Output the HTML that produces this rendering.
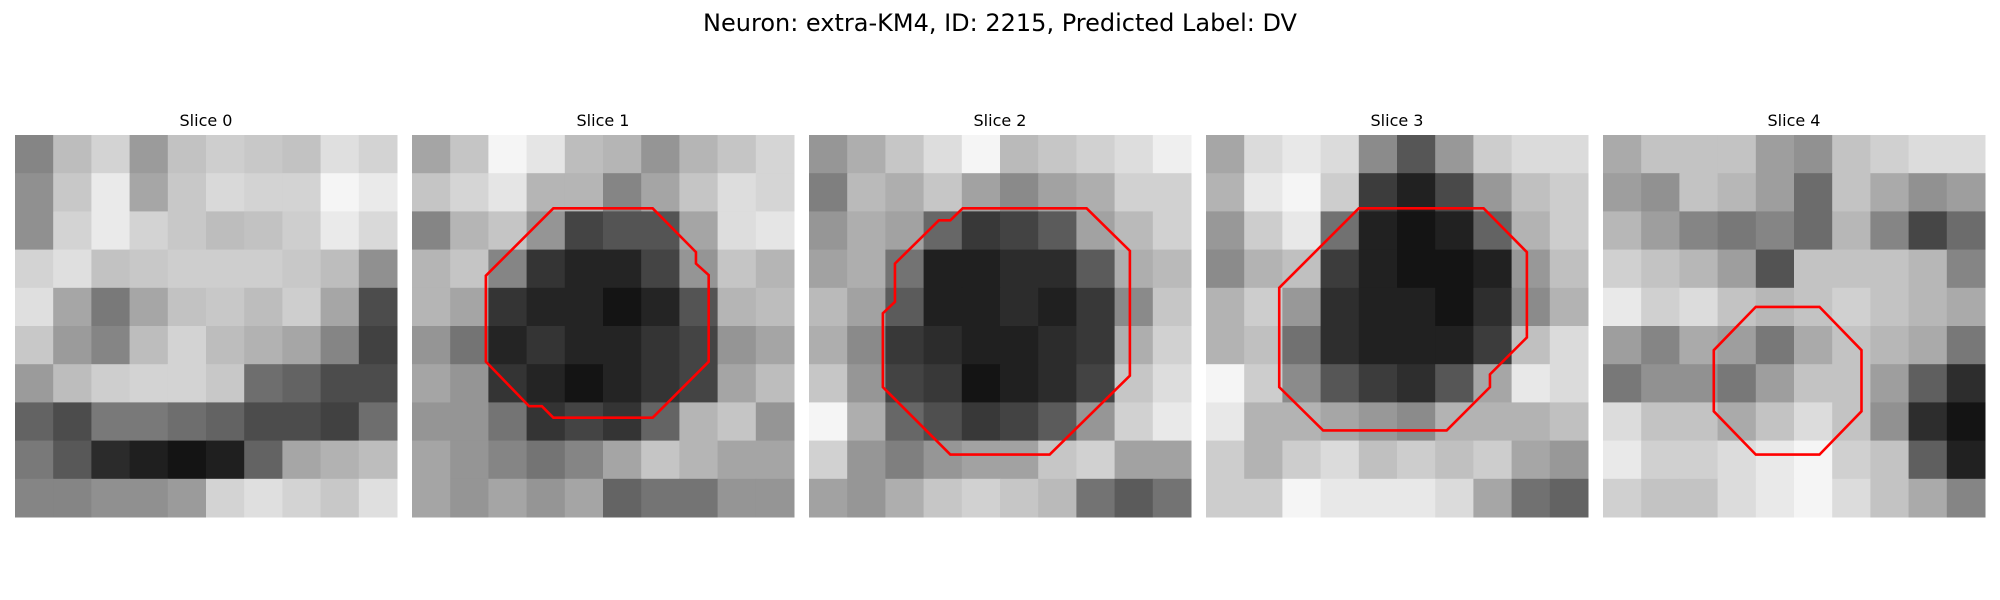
<!DOCTYPE html>
<html><head><meta charset="utf-8"><style>
html,body{margin:0;padding:0;background:#fff;}
svg{display:block;}
</style></head><body>
<svg id="fig" width="2000" height="600" xmlns="http://www.w3.org/2000/svg">
<text x="1000" y="31" text-anchor="middle" font-family="DejaVu Sans, Liberation Sans, sans-serif" font-size="24" fill="#000">Neuron: extra-KM4, ID: 2215, Predicted Label: DV</text>
<g id="panels"></g>
</svg>
<script>
const sliceTitles = ["Slice 0","Slice 1","Slice 2","Slice 3","Slice 4"];
// coarse 10x10 block intensities (0-255) per slice
const slice0 = [
[120,170,190,140,175,185,180,175,200,190],
[130,180,210,150,180,195,190,190,220,210],
[130,190,210,190,180,170,175,185,210,195],
[190,200,175,180,185,185,185,180,170,130],
[200,150,110,150,175,180,170,185,150,70],
[180,140,120,170,190,170,160,150,120,60],
[140,170,185,190,190,180,100,90,70,70],
[90,70,110,110,100,90,70,70,60,100],
[110,80,40,30,20,30,90,150,160,170],
[120,120,130,130,140,190,200,190,180,200]];
const slice1 = [
[150,170,200,190,165,160,140,160,170,180],
[170,180,190,160,160,130,150,170,185,180],
[130,160,170,140,90,100,100,150,185,190],
[160,170,130,80,70,70,90,140,170,160],
[160,150,80,70,70,60,70,100,160,165],
[140,120,70,80,70,70,80,90,140,150],
[150,140,80,70,60,70,80,90,150,165],
[140,140,120,80,90,80,110,160,170,140],
[150,140,130,120,130,150,170,160,150,150],
[150,140,150,140,150,110,120,120,140,140]];
const slice2 = [
[150,170,190,210,230,180,190,200,210,225],
[130,180,170,190,160,140,160,170,200,200],
[150,170,160,110,70,80,100,160,180,200],
[160,170,120,50,50,60,60,100,170,180],
[180,160,100,50,50,60,50,70,140,190],
[170,140,70,60,50,50,60,70,170,200],
[190,150,80,70,40,50,60,80,190,210],
[230,170,110,90,70,80,100,150,200,220],
[200,150,130,150,160,160,190,200,160,160],
[160,150,170,190,200,190,180,120,100,120]];
const slice3 = [
[140,180,190,180,120,80,130,170,180,180],
[150,190,200,170,60,40,70,130,160,170],
[130,170,190,100,40,30,40,90,150,170],
[120,150,160,60,40,30,30,40,130,160],
[150,170,130,50,40,40,30,50,120,150],
[150,160,100,50,40,40,40,60,160,180],
[200,170,120,80,60,50,80,140,190,180],
[190,150,150,140,130,120,150,150,150,160],
[170,150,170,180,160,170,160,170,140,130],
[170,170,200,190,190,190,180,140,100,90]];
const slice4 = [
[150,170,170,170,140,130,170,180,190,190],
[140,130,170,160,140,100,170,150,130,140],
[160,140,120,110,120,100,160,120,70,100],
[180,170,160,140,80,170,170,170,160,120],
[200,180,190,170,160,170,180,170,160,150],
[140,120,150,140,110,150,170,160,150,110],
[110,130,130,110,140,170,170,140,90,50],
[190,170,170,150,170,190,170,130,50,30],
[200,180,180,190,200,210,180,170,90,40],
[180,170,170,190,200,210,190,170,150,120]];
// ROI contours in image cell units (0..30)
const contour0 = [];
const contour1 = [[11.1,5.76],[18.9,5.76],[22.3,9.2],[22.3,10.1],[23.3,11.0],[23.3,17.8],[18.9,22.2],[11.1,22.2],[10.2,21.3],[9.2,21.3],[5.8,17.8],[5.8,11.05]];
const contour2 = [[12.07,5.76],[21.8,5.76],[25.2,9.1],[25.2,18.9],[18.9,25.1],[11.1,25.1],[5.8,19.8],[5.8,14.0],[6.75,13.1],[6.75,10.1],[10.2,6.7],[11.1,6.7]];
const contour3 = [[12.0,5.76],[21.8,5.76],[25.2,9.2],[25.2,15.9],[22.3,18.8],[22.3,19.8],[18.9,23.2],[9.2,23.2],[5.75,19.8],[5.75,12.0]];
const contour4 = [[12.0,13.5],[17.0,13.5],[20.3,16.9],[20.3,21.7],[17.0,25.1],[12.0,25.1],[8.7,21.7],[8.7,16.9]];

const slices = [slice0,slice1,slice2,slice3,slice4];
const contours = [contour0,contour1,contour2,contour3,contour4];
const NS = "http://www.w3.org/2000/svg";
const panelX0 = 15, panelStep = 397, panelY0 = 135, panelSize = 382, imgCells = 30;
const g = document.getElementById('panels');
function px(i, v){ return panelX0 + i*panelStep + v*panelSize/imgCells; }
function py(v){ return panelY0 + v*panelSize/imgCells; }

slices.forEach((grid, i) => {
  const pg = document.createElementNS(NS,'g');
  
  
  g.appendChild(pg);
  const t = document.createElementNS(NS,'text');
  
  
  t.setAttribute('x', px(i, 15));
  t.setAttribute('y', 126);
  t.setAttribute('text-anchor','middle');
  t.setAttribute('font-family','DejaVu Sans, Liberation Sans, sans-serif');
  t.setAttribute('font-size','16');
  t.textContent = sliceTitles[i];
  pg.appendChild(t);
  const flat = grid.flat();
  const vmin = Math.min(...flat), vmax = Math.max(...flat);
  const n = grid.length, bs = imgCells / n;
  grid.forEach((row, r) => row.forEach((val, c) => {
    const rc = document.createElementNS(NS,'rect');
    
    
    const x1 = px(i, c*bs), x2 = px(i, (c+1)*bs), y1 = py(r*bs), y2 = py((r+1)*bs);
    rc.setAttribute('x', x1); rc.setAttribute('y', y1);
    rc.setAttribute('width', x2 - x1 + 0.5); rc.setAttribute('height', y2 - y1 + 0.5);
    const gv = Math.round(20 + (val - vmin) / (vmax - vmin || 1) * 225);
    rc.setAttribute('fill', `rgb(${gv},${gv},${gv})`);
    pg.appendChild(rc);
  }));
  const pts = contours[i];
  if (pts.length) {
    const poly = document.createElementNS(NS,'polygon');
    
    
    poly.setAttribute('points', pts.map(p => px(i,p[0]) + ',' + py(p[1])).join(' '));
    poly.setAttribute('fill','none');
    poly.setAttribute('stroke','#ff0000');
    poly.setAttribute('stroke-width','2.6');
    poly.setAttribute('stroke-linejoin','miter');
    pg.appendChild(poly);
  }
});
</script>
</body></html>
